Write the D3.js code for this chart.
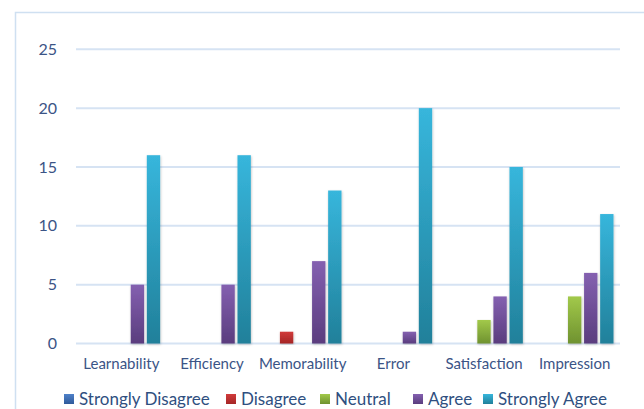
<!DOCTYPE html>
<html>
<head>
<meta charset="utf-8">
<script src="https://cdn.jsdelivr.net/npm/d3@7/dist/d3.min.js"></script>
<style>
  html, body { margin: 0; padding: 0; background: #fff; }
  svg { display: block; }
</style>
</head>
<body>
<svg id="chart" width="644" height="409"></svg>
<script>
// Survey responses per usability dimension
const categories = ["Learnability", "Efficiency", "Memorability", "Error", "Satisfaction", "Impression"];
const seriesNames = ["Strongly Disagree", "Disagree", "Neutral", "Agree", "Strongly Agree"];
const stronglyDisagree = [0, 0, 0, 0, 0, 0];
const disagree = [0, 0, 1, 0, 0, 0];
const neutral = [0, 0, 0, 0, 2, 4];
const agree = [5, 5, 7, 1, 4, 6];
const stronglyAgree = [16, 16, 13, 20, 15, 11];
const yTicks = [0, 5, 10, 15, 20, 25];

const seriesValues = [stronglyDisagree, disagree, neutral, agree, stronglyAgree];
const colors = [
  { top: "#4f81c9", bottom: "#2f5a9a" },
  { top: "#d13b3b", bottom: "#a52626" },
  { top: "#a2c94a", bottom: "#6f9230" },
  { top: "#8460b0", bottom: "#5a3d7e" },
  { top: "#37b6dc", bottom: "#21809a" }
];

const svg = d3.select("#chart");
const defs = svg.append("defs");

colors.forEach((c, i) => {
  const g = defs.append("linearGradient")
    .attr("id", "grad" + i).attr("x1", 0).attr("y1", 0).attr("x2", 0).attr("y2", 1);
  g.append("stop").attr("offset", "0%").attr("stop-color", c.top);
  g.append("stop").attr("offset", "100%").attr("stop-color", c.bottom);
});

const shadow = defs.append("filter").attr("id", "shadow")
  .attr("x", "-40%").attr("y", "-5%").attr("width", "180%").attr("height", "115%");
shadow.append("feDropShadow").attr("dx", 0.5).attr("dy", 1)
  .attr("stdDeviation", 1.2).attr("flood-color", "#000").attr("flood-opacity", 0.25);

// Chart area frame
svg.append("rect")
  .attr("x", 15.5).attr("y", 12.5).attr("width", 640).attr("height", 420)
  .attr("fill", "none").attr("stroke", "#cfe0f1").attr("stroke-width", 1.5);

const plotLeft = 76, plotRight = 620, plotTop = 49.3, plotBottom = 343.5;

const x0 = d3.scaleBand().domain(categories).range([plotLeft, plotRight]).paddingInner(0).paddingOuter(0);
const x1 = d3.scaleBand().domain(d3.range(seriesNames.length))
  .range([6.5, x0.bandwidth() - 6.5]).paddingInner(0.17).paddingOuter(0);
const y = d3.scaleLinear().domain([0, 25]).range([plotBottom, plotTop]);

const labelFont = "Lato, 'Open Sans', sans-serif";
const labelColor = "#3b5486";

// Gridlines
svg.append("g").selectAll("line").data(yTicks).join("line")
  .attr("x1", plotLeft).attr("x2", plotRight)
  .attr("y1", d => y(d)).attr("y2", d => y(d))
  .attr("stroke", "#d6e3f3").attr("stroke-width", 2);

// Y axis labels
const yAxis = d3.axisLeft(y).tickValues(yTicks).tickSize(0).tickPadding(19);
svg.append("g").attr("transform", `translate(${plotLeft},0)`).call(yAxis)
  .call(g => g.select(".domain").remove())
  .selectAll("text")
  .attr("font-family", labelFont)
  .attr("font-size", 16).attr("fill", labelColor);

// Bars
const groups = svg.append("g").selectAll("g").data(categories).join("g")
  .attr("transform", d => `translate(${x0(d)},0)`);

groups.selectAll("rect")
  .data((cat, ci) => seriesValues.map((vals, si) => ({ si, v: vals[ci] })).filter(d => d.v > 0))
  .join("rect")
  .attr("x", d => x1(d.si))
  .attr("width", x1.bandwidth())
  .attr("y", d => y(d.v))
  .attr("height", d => y(0) - y(d.v))
  .attr("fill", d => `url(#grad${d.si})`)
  .attr("filter", "url(#shadow)");

// Category labels
const xAxis = d3.axisBottom(x0).tickSize(0).tickPadding(15);
svg.append("g").attr("transform", `translate(0,${plotBottom})`).call(xAxis)
  .call(g => g.select(".domain").remove())
  .selectAll("text")
  .attr("font-family", labelFont)
  .attr("font-size", 15).attr("fill", labelColor);

// Legend
const legendX = [64, 226, 320, 413, 483];
const legend = svg.append("g").selectAll("g").data(seriesNames).join("g")
  .attr("transform", (d, i) => `translate(${legendX[i]},394)`);
legend.append("rect").attr("width", 10).attr("height", 10)
  .attr("fill", (d, i) => `url(#grad${i})`);
legend.append("text").attr("x", 15).attr("y", 11)
  .attr("font-family", labelFont)
  .attr("font-size", 17).attr("fill", "#2f4f80")
  .text(d => d);
</script>
</body>
</html>
